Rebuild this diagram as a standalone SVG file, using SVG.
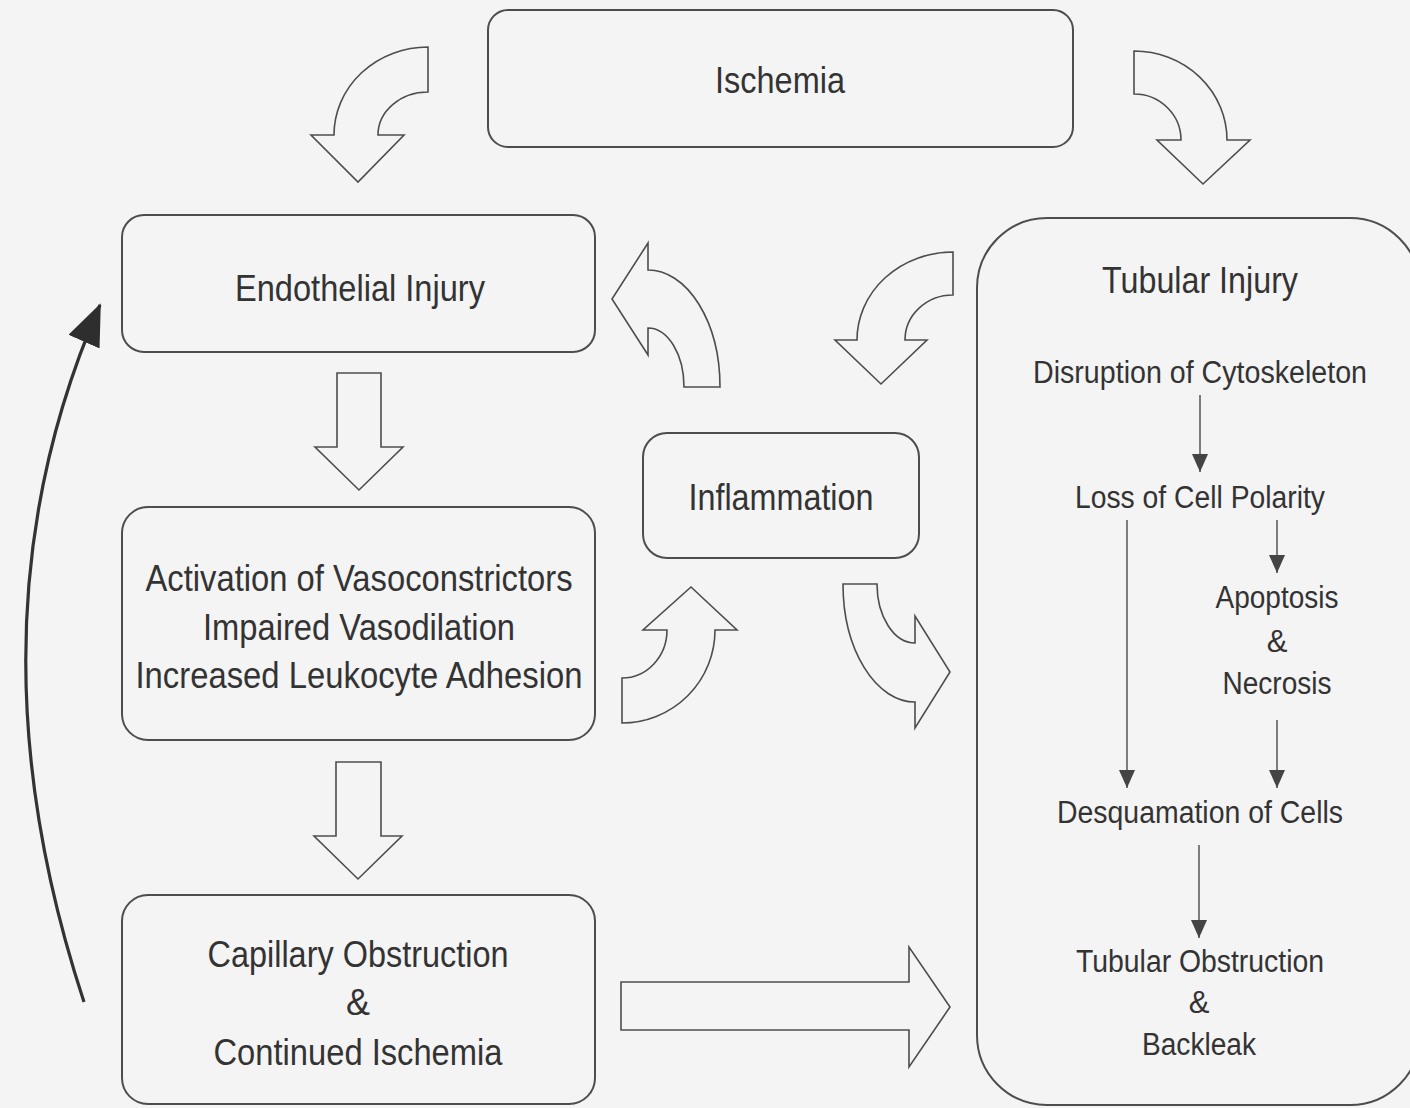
<svg xmlns="http://www.w3.org/2000/svg" width="1410" height="1108" viewBox="0 0 1410 1108">
<style>
.box{fill:none;stroke:#4d4d4d;stroke-width:2}
.blk{fill:#f4f4f4;stroke:#4d4d4d;stroke-width:1.6;stroke-linejoin:miter}
.t{font-family:"Liberation Sans",Arial,sans-serif;fill:#333;text-anchor:middle}
.big{font-size:36px}
.sm{font-size:31px}
.thin{fill:none;stroke:#555;stroke-width:1.5}
.curve{fill:none;stroke:#333;stroke-width:3.2}
</style>
<defs>
<marker id="ah" viewBox="0 0 18 16" refX="18" refY="8" markerWidth="18" markerHeight="16" markerUnits="userSpaceOnUse" orient="auto"><path d="M0,0 L18,8 L0,16 Z" fill="#444"/></marker>
<marker id="bigah" viewBox="0 0 42 34" refX="40" refY="17" markerWidth="42" markerHeight="34" markerUnits="userSpaceOnUse" orient="auto"><path d="M0,0 L42,17 L0,34 Z" fill="#2e2e2e"/></marker>
</defs>
<rect x="0" y="0" width="1410" height="1108" fill="#f4f4f4"/>

<g id="ischemia">
<rect class="box" x="488" y="10" width="585" height="137" rx="20"/>
<text class="t big" x="780" y="93" textLength="130" lengthAdjust="spacingAndGlyphs">Ischemia</text>
</g>
<g id="endothelial">
<rect class="box" x="122" y="215" width="473" height="137" rx="22"/>
<text class="t big" x="360" y="301" textLength="250" lengthAdjust="spacingAndGlyphs">Endothelial Injury</text>
</g>
<g id="activation">
<rect class="box" x="122" y="507" width="473" height="233" rx="26"/>
<text class="t big" x="359" y="591" textLength="427" lengthAdjust="spacingAndGlyphs">Activation of Vasoconstrictors</text>
<text class="t big" x="359" y="640" textLength="312" lengthAdjust="spacingAndGlyphs">Impaired Vasodilation</text>
<text class="t big" x="359" y="688" textLength="447" lengthAdjust="spacingAndGlyphs">Increased Leukocyte Adhesion</text>
</g>
<g id="capillary">
<rect class="box" x="122" y="895" width="473" height="209" rx="26"/>
<text class="t big" x="358" y="967" textLength="301" lengthAdjust="spacingAndGlyphs">Capillary Obstruction</text>
<text class="t big" x="358" y="1015">&amp;</text>
<text class="t big" x="358" y="1065" textLength="289" lengthAdjust="spacingAndGlyphs">Continued Ischemia</text>
</g>
<g id="inflammation">
<rect class="box" x="643" y="433" width="276" height="125" rx="24"/>
<text class="t big" x="781" y="510" textLength="185" lengthAdjust="spacingAndGlyphs">Inflammation</text>
</g>
<g id="tubular">
<rect class="box" x="977" y="218" width="443" height="887" rx="70"/>
<text class="t big" x="1200" y="293" textLength="196" lengthAdjust="spacingAndGlyphs">Tubular Injury</text>
<text class="t sm" x="1200" y="383" textLength="334" lengthAdjust="spacingAndGlyphs">Disruption of Cytoskeleton</text>
<text class="t sm" x="1200" y="508" textLength="250" lengthAdjust="spacingAndGlyphs">Loss of Cell Polarity</text>
<text class="t sm" x="1277" y="608" textLength="123" lengthAdjust="spacingAndGlyphs">Apoptosis</text>
<text class="t sm" x="1277" y="652">&amp;</text>
<text class="t sm" x="1277" y="694" textLength="109" lengthAdjust="spacingAndGlyphs">Necrosis</text>
<text class="t sm" x="1200" y="823" textLength="286" lengthAdjust="spacingAndGlyphs">Desquamation of Cells</text>
<text class="t sm" x="1200" y="972" textLength="248" lengthAdjust="spacingAndGlyphs">Tubular Obstruction</text>
<text class="t sm" x="1199" y="1013">&amp;</text>
<text class="t sm" x="1199" y="1055" textLength="114" lengthAdjust="spacingAndGlyphs">Backleak</text>
</g>

<g id="connectors">
<path class="blk" d="M 428 47 A 94 88 0 0 0 334 135 L 311 135 L 358 182 L 404 135 L 378 135 A 50 43 0 0 1 428 92 Z"/>
<path class="blk" d="M 1134 51 A 93 89 0 0 1 1227 140 L 1250 140 L 1203 184 L 1157 140 L 1181 140 A 47 46 0 0 0 1134 94 Z"/>
<path class="blk" d="M 720 387 A 72 117 0 0 0 648 270 L 648 243 L 612 299 L 648 355 L 648 328 A 36 59 0 0 1 684 387 Z"/>
<path class="blk" d="M 953 252 A 96 88 0 0 0 857 340 L 835 340 L 881 384 L 927 340 L 905 340 A 48 45 0 0 1 953 295 Z"/>
<path class="blk" d="M 622 723 A 93 93 0 0 0 715 630 L 737 630 L 691 587 L 643 630 L 667 630 A 45 48 0 0 1 622 678 Z"/>
<path class="blk" d="M 843 584 A 72 118 0 0 0 915 702 L 915 728 L 950 672 L 915 616 L 915 643 A 38 59 0 0 1 877 584 Z"/>
<path class="blk" d="M 337 373 L 381 373 L 381 447 L 403 447 L 359 490 L 315 447 L 337 447 Z"/>
<path class="blk" d="M 336 762 L 381 762 L 381 836 L 402 836 L 358 879 L 314 836 L 336 836 Z"/>
<path class="blk" d="M 621 982 L 909 982 L 909 947 L 950 1007 L 909 1067 L 909 1030 L 621 1030 Z"/>
<path class="curve" d="M 84 1002 Q -40 625 100 305" marker-end="url(#bigah)"/>
<line class="thin" x1="1200" y1="395" x2="1200" y2="472" marker-end="url(#ah)"/>
<line class="thin" x1="1277" y1="520" x2="1277" y2="573" marker-end="url(#ah)"/>
<line class="thin" x1="1127" y1="520" x2="1127" y2="788" marker-end="url(#ah)"/>
<line class="thin" x1="1277" y1="720" x2="1277" y2="788" marker-end="url(#ah)"/>
<line class="thin" x1="1199" y1="845" x2="1199" y2="938" marker-end="url(#ah)"/>
</g>
</svg>
